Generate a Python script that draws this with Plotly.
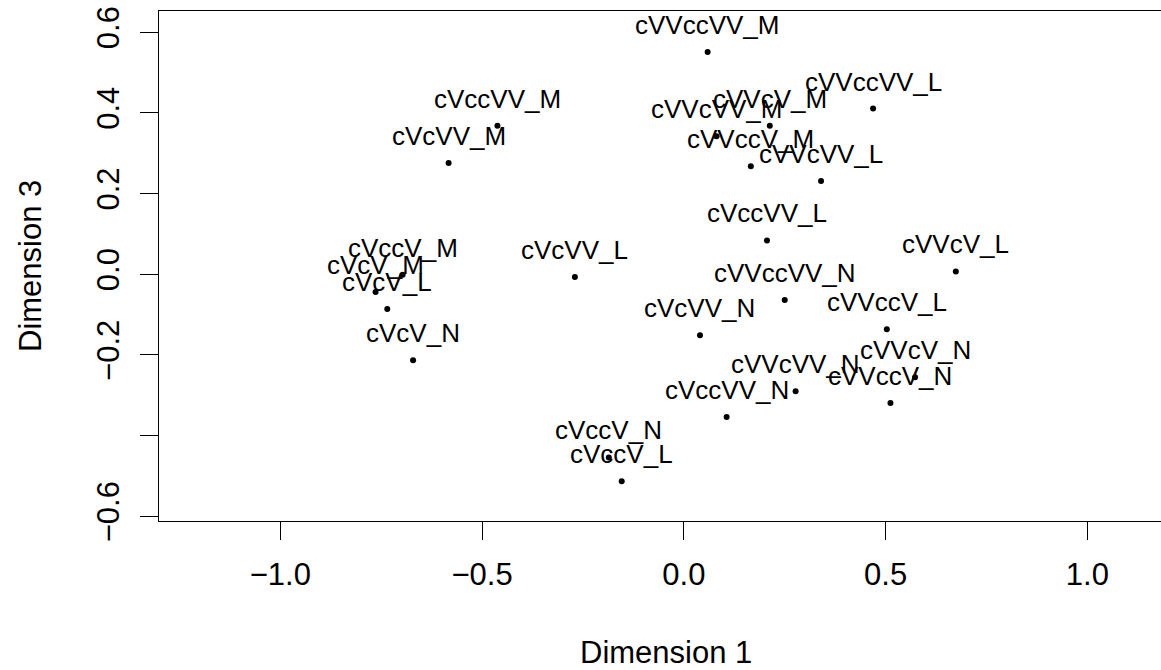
import plotly.graph_objects as go

# MDS configuration: word-shape stimuli on dimensions 1 and 3
labels = [
    "cVcV_N", "cVcV_M", "cVcV_L",
    "cVccV_N", "cVccV_M", "cVccV_L",
    "cVcVV_N", "cVcVV_M", "cVcVV_L",
    "cVccVV_N", "cVccVV_M", "cVccVV_L",
    "cVVcV_N", "cVVcV_M", "cVVcV_L",
    "cVVccV_N", "cVVccV_M", "cVVccV_L",
    "cVVcVV_N", "cVVcVV_M", "cVVcVV_L",
    "cVVccVV_N", "cVVccVV_M", "cVVccVV_L",
]
dim1 = [
    -0.671, -0.764, -0.735,
    -0.186, -0.697, -0.154,
    0.040, -0.583, -0.270,
    0.106, -0.462, 0.206,
    0.573, 0.213, 0.674,
    0.512, 0.166, 0.503,
    0.277, 0.081, 0.340,
    0.250, 0.059, 0.469,
]
dim3 = [
    -0.213, -0.044, -0.086,
    -0.454, -0.001, -0.513,
    -0.151, 0.276, -0.007,
    -0.354, 0.368, 0.084,
    -0.255, 0.368, 0.007,
    -0.319, 0.268, -0.136,
    -0.290, 0.342, 0.231,
    -0.064, 0.551, 0.411,
]

x_ticks = [-1.0, -0.5, 0.0, 0.5, 1.0]
x_tick_text = ["\u22121.0", "\u22120.5", "0.0", "0.5", "1.0"]
y_ticks = [-0.6, -0.4, -0.2, 0.0, 0.2, 0.4, 0.6]
y_tick_text = ["\u22120.6", "", "\u22120.2", "0.0", "0.2", "0.4", "0.6"]

FONT = "Liberation Sans, Arial, Helvetica, sans-serif"

fig = go.Figure()
fig.add_trace(go.Scatter(
    x=dim1, y=dim3, mode="markers",
    marker=dict(color="black", size=6),
    hoverinfo="skip", showlegend=False,
))

# point labels sit just above each point
for name, xv, yv in zip(labels, dim1, dim3):
    fig.add_annotation(
        x=xv, y=yv, text=name, showarrow=False,
        yshift=27, font=dict(family=FONT, size=26, color="black"),
    )

fig.add_annotation(
    x=0.5, y=0, xref="paper", yref="paper", text="Dimension 1",
    showarrow=False, yanchor="middle", yshift=-131, xshift=6,
    font=dict(family=FONT, size=31, color="black"),
)
fig.add_annotation(
    x=0, y=0.5, xref="paper", yref="paper", text="Dimension 3",
    showarrow=False, xanchor="center", xshift=-129, textangle=-90,
    font=dict(family=FONT, size=31, color="black"),
)

axis_common = dict(
    showgrid=False, zeroline=False, showline=True, linecolor="black",
    linewidth=1.3, ticks="outside", ticklen=18, tickwidth=1.3,
    tickcolor="black", tickfont=dict(family=FONT, size=31, color="black"),
)

fig.update_layout(
    width=1161, height=670,
    margin=dict(l=159, r=0, t=11, b=149),
    paper_bgcolor="white", plot_bgcolor="white",
    xaxis=dict(range=[-1.3007, 1.1825], tickvals=x_ticks, ticktext=x_tick_text,
               mirror=True, ticklabelstandoff=8, **axis_common),
    yaxis=dict(range=[-0.6116, 0.6527], tickvals=y_ticks, ticktext=y_tick_text,
               tickangle=-90, ticklabelstandoff=8, **axis_common),
)

fig.write_html("out.html")
